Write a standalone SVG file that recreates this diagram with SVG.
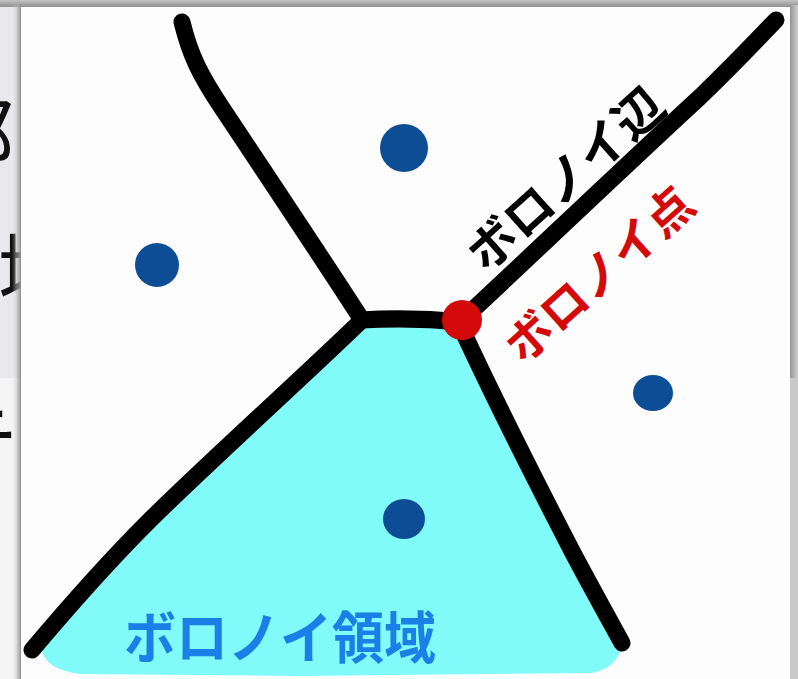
<svg xmlns="http://www.w3.org/2000/svg" width="798" height="679" viewBox="0 0 798 679">
  <defs>
    <linearGradient id="gTop" x1="0" y1="0" x2="0" y2="1">
      <stop offset="0" stop-color="#c4c4c4"/>
      <stop offset="1" stop-color="#8e8e8e"/>
    </linearGradient>
    <linearGradient id="gLeft" x1="0" y1="0" x2="1" y2="0">
      <stop offset="0" stop-color="#e6e6e8" stop-opacity="0"/>
      <stop offset="1" stop-color="#8c8c8c"/>
    </linearGradient>
    <linearGradient id="gRight" x1="0" y1="0" x2="1" y2="0">
      <stop offset="0" stop-color="#959595"/>
      <stop offset="1" stop-color="#cfcfcf"/>
    </linearGradient>
    <clipPath id="leftStrip"><rect x="0" y="0" width="21" height="679"/></clipPath>
  </defs>
  <style>
    .edge { fill: none; stroke: #000; stroke-width: 17; stroke-linecap: round; stroke-linejoin: round; }
    .site { fill: #0c4d96; }
    .bgtxt { font-family: "Noto Sans CJK JP", "Noto Sans", sans-serif; font-size: 80px; fill: #111; }
    .lbl { font-family: "Noto Sans CJK JP", "Noto Sans", sans-serif; font-weight: 700; }
  </style>

  <!-- background screenshot behind the card -->
  <g id="background">
    <rect x="0" y="0" width="798" height="679" fill="#e9e8ec"/>
    <rect x="0" y="378" width="798" height="301" fill="#f5f5f5"/>
    <g clip-path="url(#leftStrip)">
      <text class="bgtxt" x="-66" y="164">部</text>
      <text class="bgtxt" x="-2" y="300">域</text>
      <text class="bgtxt" x="-62" y="470">テ</text>
    </g>
    <rect x="0" y="0" width="798" height="7" fill="url(#gTop)"/>
    <rect x="12" y="5" width="9" height="674" fill="url(#gLeft)"/>
    <rect x="790" y="5" width="8" height="373" fill="url(#gRight)"/>
    <rect x="790" y="378" width="8" height="301" fill="#c9c9c9"/>
  </g>

  <!-- white card -->
  <rect id="card" x="21" y="7" width="769" height="672" fill="#fdfdfd"/>

  <!-- Voronoi region -->
  <g id="region">
    <path d="M363,322 Q412,319 462,322 C490,390 530,470 573,553 C590,585 605,612 622,643 Q618,668 592,673 L300,676 L80,674 Q48,670 42,652 C70,605 110,560 147,523 C200,470 300,380 363,322 Z" fill="#80fbfa"/>
  </g>

  <!-- Voronoi edges -->
  <g id="edges">
    <path class="edge" d="M182,22 C190,55 200,75 222,108 C270,180 320,255 362,320"/>
    <path class="edge" d="M360,320 Q412,317 462,322"/>
    <path class="edge" d="M462,320 C520,266 640,152 700,97 C730,68 755,42 776,20"/>
    <path class="edge" d="M460,325 C490,390 530,470 573,553 C590,585 605,612 622,643"/>
    <path class="edge" d="M362,320 C300,380 200,470 147,523 C110,560 70,605 32,650"/>
  </g>

  <!-- sites -->
  <g id="sites">
    <circle class="site" cx="404" cy="148" r="24"/>
    <circle class="site" cx="157" cy="265" r="22"/>
    <ellipse class="site" cx="653" cy="393" rx="20" ry="18"/>
    <ellipse class="site" cx="404" cy="519" rx="21" ry="20"/>
  </g>

  <!-- Voronoi vertex -->
  <g id="vertex">
    <circle cx="462" cy="320" r="20" fill="#d40a0a"/>
  </g>

  <!-- labels -->
  <g id="label-edge">
    <text class="lbl" transform="translate(563,176) rotate(-42)" text-anchor="middle" dominant-baseline="central" font-size="49" fill="#000">ボロノイ辺</text>
  </g>
  <g id="label-vertex">
    <text class="lbl" transform="translate(597,272) rotate(-42)" text-anchor="middle" dominant-baseline="central" font-size="47" fill="#d40a0a">ボロノイ点</text>
  </g>
  <g id="label-region">
    <text class="lbl" x="124" y="658" font-size="56" fill="#1a80e8" textLength="312" lengthAdjust="spacingAndGlyphs">ボロノイ領域</text>
  </g>
</svg>
